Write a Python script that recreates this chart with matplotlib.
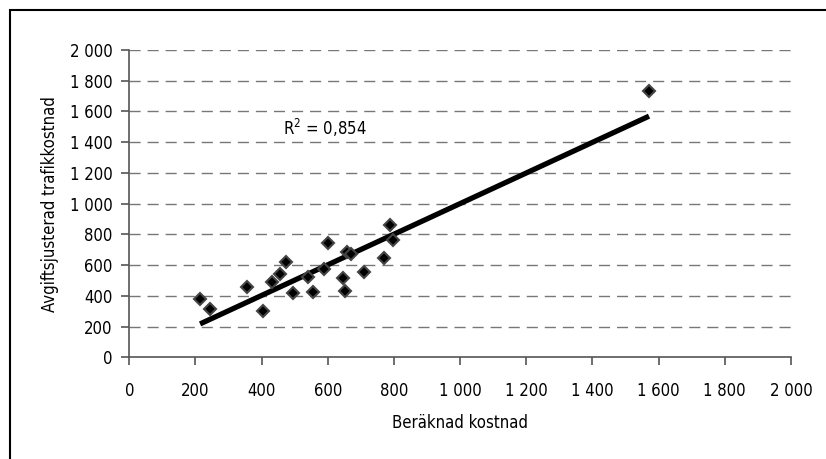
import numpy as np
import matplotlib
matplotlib.use('Agg')
import matplotlib.pyplot as plt
from matplotlib.ticker import FuncFormatter, MultipleLocator
from matplotlib.patches import Rectangle

plt.rcParams['font.family'] = ['DejaVu Sans']
plt.rcParams['font.stretch'] = 'condensed'
plt.rcParams['mathtext.fontset'] = 'custom'
plt.rcParams['mathtext.rm'] = 'DejaVu Sans:stretch=condensed'

# beräknad kostnad vs avgiftsjusterad trafikkostnad
berakn = [214, 244, 357, 403, 430, 455, 474, 496, 539, 556, 588, 601,
          645, 652, 657, 669, 710, 770, 788, 798, 1571]
justerad = [377, 312, 459, 303, 488, 540, 618, 420, 525, 427, 575, 742,
            518, 433, 687, 672, 557, 644, 861, 763, 1735]
r2_text = 'R$^2$ = 0,854'

x = np.array(berakn, dtype=float)
y = np.array(justerad, dtype=float)
k, m = np.polyfit(x, y, 1)
xl = np.array([x.min(), x.max()])

fig = plt.figure(figsize=(8.26, 4.59), dpi=100)
ax = fig.add_axes([0.1565, 0.2216, 0.8011, 0.6694])

ax.set_xlim(0, 2000)
ax.set_ylim(0, 2000)
ax.xaxis.set_major_locator(MultipleLocator(200))
ax.yaxis.set_major_locator(MultipleLocator(200))

def spaced(v, pos):
    return '{:,}'.format(int(v)).replace(',', ' ')

ax.xaxis.set_major_formatter(FuncFormatter(spaced))
ax.yaxis.set_major_formatter(FuncFormatter(spaced))

for yy in range(200, 2001, 200):
    ax.axhline(yy, color='#777777', lw=1, dashes=(8, 5), zorder=1)

ax.plot(xl, k * xl + m, color='black', lw=3.8, solid_capstyle='butt', zorder=3)
ax.plot(x, y, linestyle='none', marker='D', ms=6.5, mfc='black',
        mec='#444444', mew=1.5, zorder=4)

ax.text(464, 1492, r2_text, fontsize=12, va='center', ha='left')

for s in ['top', 'right']:
    ax.spines[s].set_visible(False)
for s in ['left', 'bottom']:
    ax.spines[s].set_color('#555555')
    ax.spines[s].set_linewidth(1.2)

ax.tick_params(axis='both', labelsize=12, color='#555555', width=1.2,
               length=6, direction='out')
ax.tick_params(axis='x', pad=12)
ax.tick_params(axis='y', pad=6)

ax.set_xlabel('Beräknad kostnad', fontsize=12, labelpad=10)
ax.set_ylabel('Avgiftsjusterad trafikkostnad', fontsize=12, labelpad=8)

fig.patches.append(Rectangle((10 / 826, -0.1), 1.2, 1.1 - 10 / 459,
                             transform=fig.transFigure, fill=False,
                             edgecolor='black', lw=1.5))

fig.savefig('out.png', dpi=100)
